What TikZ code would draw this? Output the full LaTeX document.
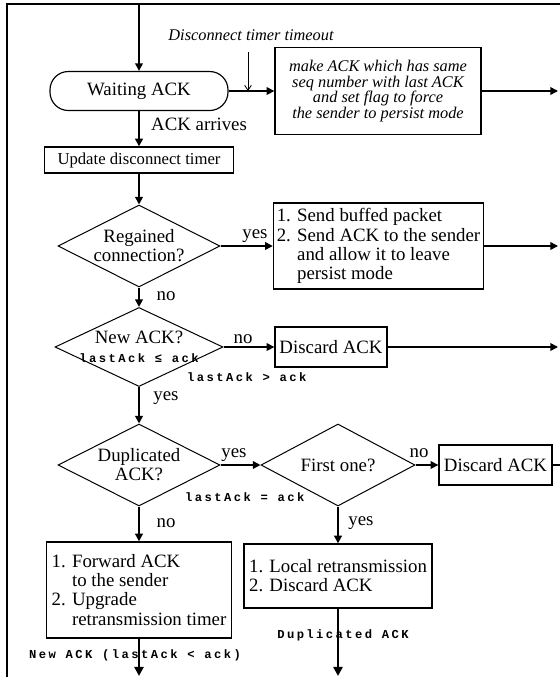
\documentclass[tikz,border=0pt]{standalone}
\usepackage{fontspec}
\setmainfont{Liberation Serif}
\newfontfamily\codefont[LetterSpace=20]{Liberation Mono}
\usetikzlibrary{shapes.geometric,arrows.meta}

\def\pxs{0.6pt}
\def\colA{139}
\def\colB{338}
\def\outx{558}
\newcommand\codetxt{\fontsize{7.3}{9.5}\selectfont\codefont\bfseries}

\begin{document}
\begin{tikzpicture}[x=\pxs,y=-\pxs,line width=0.8pt,>={Triangle[length=4.6pt,width=4.6pt]}]
    \tikzstyle{txt}=[font=\fontsize{11.3}{11.5}\selectfont]
    \tikzstyle{note}=[font=\fontsize{9.8}{9.3}\selectfont\itshape]
    \tikzstyle{code}=[font=\codetxt]
    \tikzstyle{stepbox}=[draw,line width=0.8pt,inner sep=2pt,txt]
    \tikzstyle{terminal}=[stepbox,rounded corners=11pt,line width=0.7pt]
    \tikzstyle{decision}=[draw,diamond,line width=0.6pt,inner sep=0pt]
    \tikzstyle{flow}=[->,line width=1.1pt]
    \tikzstyle{side}=[->,line width=0.9pt]
    \tikzstyle{exit}=[->,line width=1.7pt,>={Triangle[length=5.5pt,width=5.5pt]}]

    \useasboundingbox (0,0) rectangle (560,677);

    % Frame round the chart
    \draw[line width=1.2pt] (7,677) |- (560,4);

    % Loose ends of the connectors
    \coordinate (entry) at (\colA,4);
    \coordinate (tmo-start) at (248,52);
    \coordinate (tjoin) at (248,91);
    \coordinate (out-1) at (\outx,91);
    \coordinate (out-2) at (\outx,246);
    \coordinate (out-3) at (\outx,347);
    \coordinate (out-4) at (560,465);
    \coordinate (exit-1) at (\colA,676);
    \coordinate (exit-2) at (\colB,676);

    % Waiting state and timeout branch
    \node[terminal,minimum width=178*\pxs,minimum height=39*\pxs] (wait) at (\colA,91) {Waiting ACK};
    \node[note] (tmo) at (251,35) {Disconnect timer timeout};
    \node[stepbox,note,align=center,minimum width=206*\pxs,minimum height=87*\pxs] (mk) at (378,91) {make ACK which has same\\seq number with last ACK\\and set flag to force\\the sender to persist mode};
    \node[txt,anchor=west] (arr) at (145,124) {ACK arrives};
    \node[stepbox,font=\fontsize{10}{11}\selectfont,minimum width=189*\pxs,minimum height=26*\pxs] (upd) at (\colA,160) {Update disconnect timer};

    % Regained connection?
    \node[decision,minimum width=162*\pxs,minimum height=82*\pxs] (D-1) at (\colA,246) {};
    \node[txt,align=center] (D-1-t) at (\colA,246) {Regained\\connection?};
    \node[stepbox,align=left,minimum width=208*\pxs,minimum height=86*\pxs] (B-1) at (378.5,246) {1. Send buffed packet\\2. Send ACK to the sender\\\phantom{2. }and allow it to leave\\\phantom{2. }persist mode};

    % New ACK?
    \node[decision,minimum width=168*\pxs,minimum height=79*\pxs] (D-2) at (\colA,347) {};
    \node[txt,align=center] (D-2-t) at (\colA,347) {New ACK?\\{\codetxt lastAck ≤ ack}};
    \node[stepbox,minimum width=112*\pxs,minimum height=40*\pxs] (B-2) at (331,347) {Discard ACK};
    \node[code,anchor=west] (l-gt) at (181,377) {lastAck > ack};

    % Duplicated ACK? and First one?
    \node[decision,minimum width=162*\pxs,minimum height=82*\pxs] (D-3) at (\colA,465) {};
    \node[txt,align=center] (D-3-t) at (\colA,465) {Duplicated\\ACK?};
    \node[decision,minimum width=154*\pxs,minimum height=82*\pxs] (D-4) at (\colB,465) {};
    \node[txt] (D-4-t) at (\colB,465) {First one?};
    \node[stepbox,minimum width=113*\pxs,minimum height=40*\pxs] (B-3) at (495.5,465) {Discard ACK};
    \node[code,anchor=west] (l-eq) at (179,497) {lastAck = ack};

    % Actions at the bottom
    \node[stepbox,align=left,minimum width=185*\pxs,minimum height=96*\pxs] (B-4) at (\colA,590) {1. Forward ACK\\\phantom{1. }to the sender\\2. Upgrade\\\phantom{2. }retransmission timer};
    \node[stepbox,align=left,minimum width=188*\pxs,minimum height=64*\pxs] (B-5) at (\colB,576) {1. Local retransmission\\2. Discard ACK};
    \node[code] (dup) at (343,635) {Duplicated ACK};
    \node[code] (newack) at (135,655) {New ACK (lastAck < ack)};

    % Branch labels
    \node[txt] (y-1) at (255,236) {yes};
    \node[txt] (n-1) at (166,296) {no};
    \node[txt] (n-2) at (243,339) {no};
    \node[txt] (y-2) at (166,398) {yes};
    \node[txt] (y-3) at (234,455) {yes};
    \node[txt] (n-3) at (419,453) {no};
    \node[txt] (n-4) at (166,523) {no};
    \node[txt] (y-4) at (361,523) {yes};

    % Main column
    \draw[flow] (entry) -- (wait);
    \draw[flow] (wait) -- (upd);
    \draw[flow] (upd) -- (D-1);
    \draw[flow] (D-1) -- (D-2);
    \draw[flow] (D-2) -- (D-3);
    \draw[flow] (D-3) -- (B-4);
    \draw[flow] (D-4) -- (B-5);

    % Side branches
    \draw[->,line width=0.5pt,>={Straight Barb[length=3pt,width=4pt]}] (tmo-start) -- (tjoin);
    \draw[side] (wait) -- (mk);
    \draw[side] (mk) -- (out-1);
    \draw[side] (D-1) -- (B-1);
    \draw[side] (B-1) -- (out-2);
    \draw[side] (D-2) -- (B-2);
    \draw[side] (B-2) -- (out-3);
    \draw[side] (D-3) -- (D-4);
    \draw[side] (D-4) -- (B-3);
    \draw[line width=0.9pt] (B-3) -- (out-4);

    % Ways out
    \draw[exit] (B-4) -- (exit-1);
    \draw[exit] (B-5) -- (exit-2);
\end{tikzpicture}
\end{document}
